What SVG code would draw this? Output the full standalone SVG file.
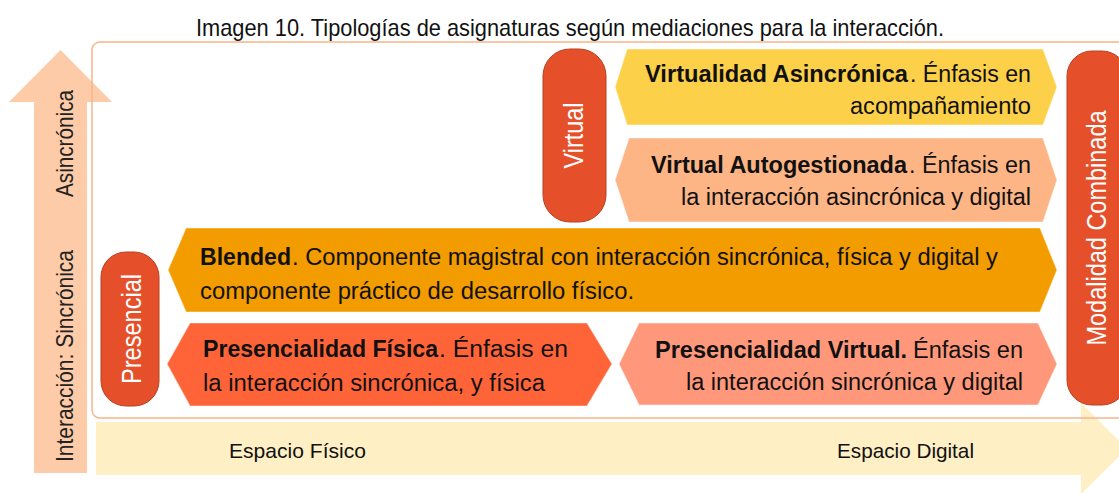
<svg xmlns="http://www.w3.org/2000/svg" width="1119" height="493" viewBox="0 0 1119 493">
<defs>
<style>
.t{font-family:"Liberation Sans",Arial,sans-serif;fill:#111;}
.box{font-size:23.5px;}
.b{font-weight:bold;}
.pill{fill:#E5502A;stroke:#B8401E;stroke-width:1;}
.pt{font-family:"Liberation Sans",Arial,sans-serif;fill:#fff;font-size:27px;text-anchor:middle;}
.ax{font-size:24px;text-anchor:middle;fill:#222;}
.hex{stroke:#FFFFFF;stroke-opacity:0.45;stroke-width:1.2;}
.sp{font-family:"Liberation Sans",Arial,sans-serif;font-size:21px;fill:#111;}
</style>
</defs>
<rect width="1119" height="493" fill="#FFFFFF"/>

<g id="axes">
<polygon id="axis-vertical" points="34,473 87,473 87,102 112,102 60.5,50 9,102 34,102" fill="#FDCBA8"/>
<polygon id="axis-horizontal" points="96,422 1081,422 1081,403 1127,448.5 1081,494 1081,475 96,475" fill="#FEEFC4"/>
<text class="t ax" transform="translate(73,143.5) rotate(-90)" textLength="107" lengthAdjust="spacingAndGlyphs">Asincrónica</text>
<text class="t ax" transform="translate(73,356) rotate(-90)" textLength="212" lengthAdjust="spacingAndGlyphs">Interacción: Sincrónica</text>
<text class="sp" x="229" y="458" textLength="137" lengthAdjust="spacingAndGlyphs">Espacio Físico</text>
<text class="sp" x="837" y="458" textLength="137" lengthAdjust="spacingAndGlyphs">Espacio Digital</text>
</g>

<text id="title" class="t" x="196" y="36" font-size="24" textLength="748" lengthAdjust="spacingAndGlyphs">Imagen 10. Tipologías de asignaturas según mediaciones para la interacción.</text>

<rect id="frame" x="92" y="42" width="1060" height="376" rx="8" fill="none" stroke="#F7B48C" stroke-width="1.5"/>

<g id="connectors"></g>

<g id="virtual">
<rect class="pill" x="543" y="49" width="63" height="173" rx="27"/>
<text class="pt" transform="translate(583,135.5) rotate(-90)" textLength="66" lengthAdjust="spacingAndGlyphs">Virtual</text>
</g>

<g id="presencial">
<rect class="pill" x="101" y="252" width="58" height="154" rx="25"/>
<text class="pt" transform="translate(141,329) rotate(-90)" textLength="110" lengthAdjust="spacingAndGlyphs">Presencial</text>
</g>

<g id="modalidad-combinada">
<rect class="pill" x="1067" y="51" width="60" height="354" rx="25"/>
<text class="pt" transform="translate(1106,228) rotate(-90)" textLength="235" lengthAdjust="spacingAndGlyphs">Modalidad Combinada</text>
</g>

<g id="virtualidad-asincronica">
<polygon class="hex" points="627,49 1043,49 1057,87 1043,125 627,125 615,87" fill="#FDD04A"/>
<text class="t box b" x="645" y="82" textLength="263" lengthAdjust="spacingAndGlyphs">Virtualidad Asincrónica</text>
<text class="t box" x="1031" y="82" text-anchor="end" textLength="121" lengthAdjust="spacingAndGlyphs">. Énfasis en</text>
<text class="t box" x="1031" y="114" text-anchor="end" textLength="181" lengthAdjust="spacingAndGlyphs">acompañamiento</text>
</g>

<g id="virtual-autogestionada">
<polygon class="hex" points="629,138 1043,138 1057,180 1043,222 629,222 615,180" fill="#FDB586"/>
<text class="t box b" x="651" y="173" textLength="256" lengthAdjust="spacingAndGlyphs">Virtual Autogestionada</text>
<text class="t box" x="1031" y="173" text-anchor="end" textLength="122" lengthAdjust="spacingAndGlyphs">. Énfasis en</text>
<text class="t box" x="1031" y="205" text-anchor="end" textLength="350" lengthAdjust="spacingAndGlyphs">la interacción asincrónica y digital</text>
</g>

<g id="blended">
<polygon class="hex" points="186,228 1040,228 1057,270 1040,312 186,312 168,270" fill="#F39C00"/>
<text class="t box b" x="200" y="265" textLength="91" lengthAdjust="spacingAndGlyphs">Blended</text>
<text class="t box" x="292" y="265" textLength="706" lengthAdjust="spacingAndGlyphs">. Componente magistral con interacción sincrónica, física y digital y</text>
<text class="t box" x="200" y="299" textLength="434" lengthAdjust="spacingAndGlyphs">componente práctico de desarrollo físico.</text>
</g>

<g id="presencialidad-fisica">
<polygon class="hex" points="190,323 587,323 612,364 587,406 190,406 167,364" fill="#FF6439"/>
<text class="t box b" x="203" y="357" textLength="235" lengthAdjust="spacingAndGlyphs">Presencialidad Física</text>
<text class="t box" x="439" y="357" textLength="129" lengthAdjust="spacingAndGlyphs">. Énfasis en</text>
<text class="t box" x="203" y="391" textLength="342" lengthAdjust="spacingAndGlyphs">la interacción sincrónica, y física</text>
</g>

<g id="presencialidad-virtual">
<polygon class="hex" points="639,323 1038,323 1057,364 1038,405 639,405 619,364" fill="#FF987A"/>
<text class="t box b" x="655" y="358" textLength="252" lengthAdjust="spacingAndGlyphs">Presencialidad Virtual.</text>
<text class="t box" x="1023" y="358" text-anchor="end" textLength="110" lengthAdjust="spacingAndGlyphs">Énfasis en</text>
<text class="t box" x="1023" y="390" text-anchor="end" textLength="337" lengthAdjust="spacingAndGlyphs">la interacción sincrónica y digital</text>
</g>
</svg>
